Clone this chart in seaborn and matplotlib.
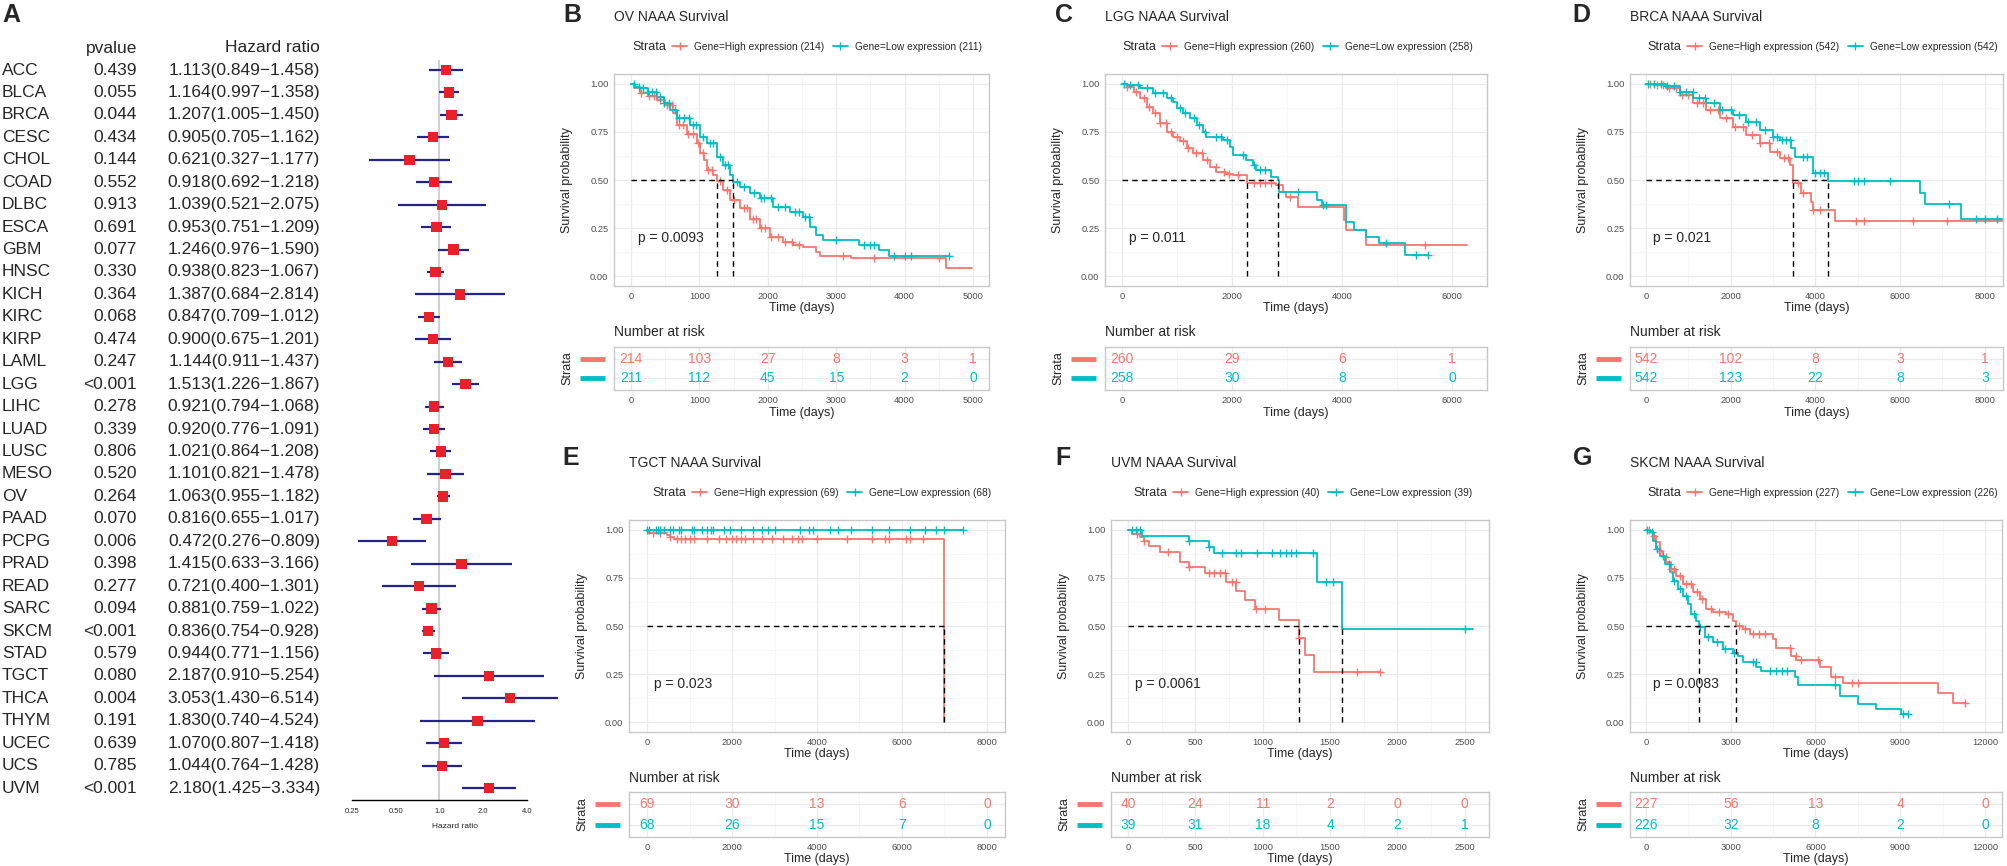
import numpy as np
import seaborn as sns
import matplotlib.pyplot as plt
from matplotlib.lines import Line2D
from matplotlib.transforms import blended_transform_factory

sns.set_style("white")
plt.rcParams['font.family'] = ['Liberation Sans', 'DejaVu Sans']

W, H = 2008, 866
RED = "#F8766D"
TEAL = "#00BFC4"

# ---- forest plot data (panel A) ----
cancer = ["ACC", "BLCA", "BRCA", "CESC", "CHOL", "COAD", "DLBC", "ESCA", "GBM", "HNSC",
          "KICH", "KIRC", "KIRP", "LAML", "LGG", "LIHC", "LUAD", "LUSC", "MESO", "OV",
          "PAAD", "PCPG", "PRAD", "READ", "SARC", "SKCM", "STAD", "TGCT", "THCA", "THYM",
          "UCEC", "UCS", "UVM"]
pvalue = ["0.439", "0.055", "0.044", "0.434", "0.144", "0.552", "0.913", "0.691", "0.077", "0.330",
          "0.364", "0.068", "0.474", "0.247", "<0.001", "0.278", "0.339", "0.806", "0.520", "0.264",
          "0.070", "0.006", "0.398", "0.277", "0.094", "<0.001", "0.579", "0.080", "0.004", "0.191",
          "0.639", "0.785", "<0.001"]
hr = [1.113, 1.164, 1.207, 0.905, 0.621, 0.918, 1.039, 0.953, 1.246, 0.938,
      1.387, 0.847, 0.900, 1.144, 1.513, 0.921, 0.920, 1.021, 1.101, 1.063,
      0.816, 0.472, 1.415, 0.721, 0.881, 0.836, 0.944, 2.187, 3.053, 1.830,
      1.070, 1.044, 2.180]
hr_low = [0.849, 0.997, 1.005, 0.705, 0.327, 0.692, 0.521, 0.751, 0.976, 0.823,
          0.684, 0.709, 0.675, 0.911, 1.226, 0.794, 0.776, 0.864, 0.821, 0.955,
          0.655, 0.276, 0.633, 0.400, 0.759, 0.754, 0.771, 0.910, 1.430, 0.740,
          0.807, 0.764, 1.425]
hr_high = [1.458, 1.358, 1.450, 1.162, 1.177, 1.218, 2.075, 1.209, 1.590, 1.067,
           2.814, 1.012, 1.201, 1.437, 1.867, 1.068, 1.091, 1.208, 1.478, 1.182,
           1.017, 0.809, 3.166, 1.301, 1.022, 0.928, 1.156, 5.254, 6.514, 4.524,
           1.418, 1.428, 3.334]

# ---- Kaplan-Meier curves ----
ov_high_t = [0, 40, 136, 250, 380, 500, 620, 670, 815, 960, 1010, 1060, 1107, 1204, 1250, 1350,
             1447, 1592, 1738, 1883, 2030, 2223, 2370, 2515, 2709, 2757, 3218, 4602, 4986]
ov_high_s = [1.0, 0.975, 0.95, 0.935, 0.915, 0.89, 0.85, 0.785, 0.74, 0.69, 0.64, 0.605, 0.55, 0.526,
             0.496, 0.45, 0.396, 0.353, 0.30, 0.25, 0.206, 0.18, 0.163, 0.154, 0.128, 0.106, 0.094,
             0.042, 0.042]
ov_low_t = [0, 60, 136, 250, 380, 480, 573, 670, 864, 1010, 1107, 1250, 1350, 1447, 1495, 1592, 1738,
            1883, 2078, 2320, 2515, 2612, 2709, 2806, 3340, 3631, 3777, 4650]
ov_low_s = [1.0, 0.985, 0.976, 0.955, 0.933, 0.9, 0.863, 0.82, 0.785, 0.725, 0.69, 0.62, 0.578, 0.526,
            0.491, 0.465, 0.43, 0.405, 0.362, 0.336, 0.31, 0.258, 0.215, 0.189, 0.163, 0.137, 0.106,
            0.106]
ov_high_cens = [150, 260, 330, 420, 520, 600, 700, 760, 830, 900, 980, 1050, 1130, 1180, 1300, 1400,
                1500, 1650, 1700, 1780, 1820, 1900, 1960, 2050, 2150, 2250, 2350, 2450, 3100, 3550, 4500]
ov_low_cens = [50, 120, 180, 250, 300, 360, 420, 480, 550, 650, 700, 780, 850, 900, 950, 1050, 1150,
               1200, 1300, 1380, 1420, 1550, 1650, 1800, 1900, 1950, 2050, 2150, 2250, 2400, 2450,
               2550, 2600, 3000, 3400, 3500, 3550, 3850, 4000, 4100, 4650]

lgg_high_t = [0, 90, 211, 331, 452, 572, 693, 813, 934, 1054, 1175, 1295, 1476, 1596, 1717, 1898,
              2018, 2271, 2801, 2922, 2982, 3193, 4036, 4066, 4428, 6275]
lgg_high_s = [1.0, 0.984, 0.958, 0.924, 0.88, 0.846, 0.794, 0.75, 0.725, 0.70, 0.664, 0.64, 0.605,
              0.57, 0.543, 0.533, 0.526, 0.486, 0.474, 0.44, 0.413, 0.362, 0.292, 0.24, 0.163, 0.163]
lgg_low_t = [0, 90, 331, 572, 813, 934, 994, 1114, 1235, 1355, 1476, 1536, 1837, 1958, 2018, 2259,
             2380, 2440, 2711, 2831, 2861, 3554, 3645, 4066, 4217, 4428, 4669, 5150, 5572]
lgg_low_s = [1.0, 0.993, 0.976, 0.95, 0.924, 0.907, 0.872, 0.846, 0.82, 0.785, 0.75, 0.725, 0.708,
             0.673, 0.63, 0.604, 0.578, 0.552, 0.517, 0.50, 0.44, 0.396, 0.37, 0.284, 0.24, 0.206,
             0.171, 0.11, 0.11]
lgg_high_cens = [100, 250, 400, 500, 600, 700, 800, 900, 1000, 1100, 1200, 1350, 1450, 1550, 1700,
                 1850, 1950, 2100, 2400, 2500, 2600, 2700, 3050, 5500]
lgg_low_cens = [30, 150, 300, 450, 600, 750, 900, 1050, 1150, 1300, 1400, 1500, 1700, 1800, 1900,
                2200, 2400, 2500, 2600, 3200, 3650, 3700, 4800, 5350, 5572]

brca_high_t = [0, 165, 480, 795, 1110, 1425, 1740, 2055, 2370, 2685, 2920, 3157, 3394, 3472, 3669,
               3905, 3945, 4457, 8500]
brca_high_s = [1.0, 0.993, 0.976, 0.94, 0.898, 0.863, 0.82, 0.777, 0.734, 0.69, 0.647, 0.612, 0.578,
               0.486, 0.43, 0.388, 0.344, 0.289, 0.289]
brca_low_t = [0, 480, 795, 1110, 1425, 1740, 2055, 2370, 2685, 3000, 3157, 3433, 3512, 3945, 4300,
              6465, 6583, 7449, 8500]
brca_low_s = [1.0, 0.988, 0.958, 0.924, 0.898, 0.863, 0.837, 0.80, 0.76, 0.725, 0.708, 0.664, 0.62,
              0.535, 0.495, 0.43, 0.375, 0.30, 0.30]
brca_high_cens = [100, 250, 400, 550, 700, 850, 1000, 1200, 1350, 1500, 1700, 1900, 2100, 2300, 2500,
                  2700, 2900, 3100, 3250, 3350, 3600, 3700, 3950, 4100, 4950, 5150, 6300, 7100]
brca_low_cens = [50, 200, 350, 500, 650, 800, 950, 1100, 1250, 1400, 1600, 1800, 2000, 2200, 2400,
                 2600, 2800, 3000, 3100, 3200, 3300, 3400, 3700, 3800, 4000, 4100, 4200, 4900, 5000,
                 5150, 5750, 7150, 7800, 8000, 8300]

tgct_high_t = [0, 20, 312, 469, 547, 625, 6992]
tgct_high_s = [1.0, 0.984, 0.98, 0.972, 0.964, 0.95, 0.0]
tgct_low_t = [0, 7435]
tgct_low_s = [1.0, 1.0]
tgct_high_cens = [150, 300, 550, 700, 800, 900, 1000, 1100, 1400, 1700, 1850, 2000, 2100, 2200, 2300,
                  2500, 2700, 2950, 3200, 3400, 3550, 3650, 4000, 4700, 5300, 5600, 5700, 6100, 6200,
                  6500]
tgct_low_cens = [0, 50, 200, 250, 300, 400, 550, 600, 750, 800, 1050, 1100, 1300, 1400, 1500, 1550,
                 1800, 1950, 2200, 2500, 2700, 2850, 3000, 3600, 3800, 3900, 4300, 4500, 4800, 5300,
                 5700, 6200, 6550, 6800, 7000, 7435]

uvm_high_t = [0, 30, 92, 116, 153, 240, 389, 450, 574, 730, 804, 871, 946, 1119, 1267, 1316, 1379, 1874]
uvm_high_s = [1.0, 0.978, 0.964, 0.943, 0.915, 0.886, 0.834, 0.808, 0.773, 0.727, 0.683, 0.635, 0.588,
              0.531, 0.436, 0.35, 0.263, 0.263]
uvm_low_t = [0, 104, 450, 599, 636, 1403, 1589, 2560]
uvm_low_s = [1.0, 0.969, 0.941, 0.912, 0.88, 0.73, 0.484, 0.484]
uvm_high_cens = [70, 120, 300, 450, 600, 640, 680, 720, 770, 800, 950, 1020, 1270, 1700, 1874]
uvm_low_cens = [30, 60, 90, 450, 600, 700, 800, 840, 960, 1070, 1130, 1170, 1210, 1250, 1370, 1470,
                1520, 2500]

skcm_high_t = [0, 130, 248, 366, 484, 602, 720, 897, 1074, 1310, 1665, 1901, 2137, 2373, 2845, 3081,
               3200, 3436, 3672, 4498, 4616, 5148, 5325, 6151, 6564, 6977, 10342, 10874, 11287]
skcm_high_s = [1.0, 0.995, 0.969, 0.934, 0.89, 0.856, 0.83, 0.796, 0.761, 0.718, 0.675, 0.64, 0.588,
               0.571, 0.562, 0.528, 0.50, 0.484, 0.458, 0.43, 0.388, 0.346, 0.323, 0.285, 0.235,
               0.204, 0.15, 0.10, 0.10]
skcm_low_t = [0, 130, 248, 366, 484, 661, 838, 956, 1133, 1310, 1488, 1606, 1783, 1865, 2078, 2373,
              2727, 3081, 3258, 3436, 3908, 4085, 5266, 5384, 6860, 7509, 8158, 9043, 9280]
skcm_low_s = [1.0, 0.986, 0.943, 0.90, 0.865, 0.822, 0.778, 0.735, 0.692, 0.657, 0.614, 0.562, 0.528,
              0.493, 0.445, 0.415, 0.38, 0.36, 0.346, 0.311, 0.285, 0.265, 0.234, 0.194, 0.138,
              0.095, 0.069, 0.043, 0.043]
skcm_high_cens = [100, 300, 500, 700, 900, 1000, 1200, 1400, 1600, 1800, 2000, 2300, 2600, 2900, 3300,
                  3500, 3800, 4000, 4200, 5100, 5300, 5500, 6100, 6700, 7300, 7500, 11287]
skcm_low_cens = [50, 200, 400, 600, 800, 1000, 1200, 1400, 1700, 1900, 2200, 2500, 2800, 3100, 3800,
                 3900, 4400, 4600, 4800, 5000, 6700, 9100, 9280]

# ---- numbers at risk ----
ov_risk_high = [214, 103, 27, 8, 3, 1]
ov_risk_low = [211, 112, 45, 15, 2, 0]
lgg_risk_high = [260, 29, 6, 1]
lgg_risk_low = [258, 30, 8, 0]
brca_risk_high = [542, 102, 8, 3, 1]
brca_risk_low = [542, 123, 22, 8, 3]
tgct_risk_high = [69, 30, 13, 6, 0]
tgct_risk_low = [68, 26, 15, 7, 0]
uvm_risk_high = [40, 24, 11, 2, 0, 0]
uvm_risk_low = [39, 31, 18, 4, 2, 1]
skcm_risk_high = [227, 56, 13, 4, 0]
skcm_risk_low = [226, 32, 8, 2, 0]

fig = plt.figure(figsize=(W / 100, H / 100), dpi=100)


def px_axes(left, top, right, bottom):
    return fig.add_axes([left / W, 1 - bottom / H, (right - left) / W, (bottom - top) / H])


def ftext(x, y, s, **kw):
    fig.text(x / W, 1 - y / H, s, **kw)


# ================= panel A: forest plot =================
ftext(2, 15, "A", fontsize=18, fontweight='bold', va='center')
axf = px_axes(340, 60, 570, 800)
axf.set_facecolor('none')
rows = np.arange(len(cancer))
axf.set_xscale('log', base=2)
axf.axvline(1, color='#d0d0d0', lw=1.5, zorder=0)
axf.hlines(rows, hr_low, hr_high, color='#23238e', lw=1.6, zorder=2)
sns.scatterplot(x=hr, y=rows, marker='s', s=55, color='#e8202a', edgecolor='none',
                ax=axf, zorder=3, legend=False)
axf.set_xlim(0.207, 7.9)
axf.set_ylim(32.53, -0.446)
for sp in ['left', 'top', 'right']:
    axf.spines[sp].set_visible(False)
axf.spines['bottom'].set_bounds(0.25, 4)
axf.spines['bottom'].set_color('black')
axf.spines['bottom'].set_linewidth(1)
axf.set_xticks([0.25, 0.5, 1, 2, 4])
axf.set_xticklabels(["0.25", "0.50", "1.0", "2.0", "4.0"])
axf.xaxis.set_minor_locator(plt.NullLocator())
axf.tick_params(axis='x', length=4, width=1, color='black', labelsize=5.5, pad=2)
axf.set_yticks([])
axf.set_xlabel("")
axf.set_ylabel("")
ftext(455, 827, "Hazard ratio", fontsize=6, ha='center', va='center')

tr = blended_transform_factory(fig.transFigure, axf.transData)
ftext(137, 48, "pvalue", fontsize=12.5, ha='right', va='center')
ftext(320, 48, "Hazard ratio", fontsize=12.5, ha='right', va='center')
for i in rows:
    axf.text(2 / W, i, cancer[i], transform=tr, ha='left', va='center', fontsize=12.5)
    axf.text(137 / W, i, pvalue[i], transform=tr, ha='right', va='center', fontsize=12.5)
    axf.text(320 / W, i, f"{hr[i]:.3f}({hr_low[i]:.3f}\u2212{hr_high[i]:.3f})",
             transform=tr, ha='right', va='center', fontsize=12.5)

# ================= KM panels =================
rows_geo = {
    'top': dict(letter_y=15, title_y=17, legend_y=47, plot=(74, 286), xlabel_y=308,
                nar_y=332, table=(347, 390), table_xlabel_y=413),
    'bottom': dict(letter_y=458, title_y=463, legend_y=493, plot=(520, 732), xlabel_y=754,
                   nar_y=778, table=(792, 837), table_xlabel_y=859),
}

panels = [
    dict(letter="B", letter_x=563, strata_x=632, row='top', left=614, right=989,
         title="OV NAAA Survival", xlim=(-249, 5234), xticks=list(range(0, 5001, 1000)),
         high=(ov_high_t, ov_high_s, ov_high_cens), low=(ov_low_t, ov_low_s, ov_low_cens),
         risk=(ov_risk_high, ov_risk_low), n=(214, 211), pval="p = 0.0093"),
    dict(letter="C", letter_x=1055, strata_x=1122, row='top', left=1105, right=1487,
         title="LGG NAAA Survival", xlim=(-309, 6636), xticks=[0, 2000, 4000, 6000],
         high=(lgg_high_t, lgg_high_s, lgg_high_cens), low=(lgg_low_t, lgg_low_s, lgg_low_cens),
         risk=(lgg_risk_high, lgg_risk_low), n=(260, 258), pval="p = 0.011"),
    dict(letter="D", letter_x=1572, strata_x=1647, row='top', left=1630, right=2003,
         title="BRCA NAAA Survival", xlim=(-378, 8430), xticks=[0, 2000, 4000, 6000, 8000],
         high=(brca_high_t, brca_high_s, brca_high_cens), low=(brca_low_t, brca_low_s, brca_low_cens),
         risk=(brca_risk_high, brca_risk_low), n=(542, 542), pval="p = 0.021"),
    dict(letter="E", letter_x=562, strata_x=652, row='bottom', left=629, right=1005,
         title="TGCT NAAA Survival", xlim=(-424, 8424), xticks=[0, 2000, 4000, 6000, 8000],
         high=(tgct_high_t, tgct_high_s, tgct_high_cens), low=(tgct_low_t, tgct_low_s, tgct_low_cens),
         risk=(tgct_risk_high, tgct_risk_low), n=(69, 68), pval="p = 0.023"),
    dict(letter="F", letter_x=1055, strata_x=1133, row='bottom', left=1111, right=1489,
         title="UVM NAAA Survival", xlim=(-126, 2680), xticks=[0, 500, 1000, 1500, 2000, 2500],
         high=(uvm_high_t, uvm_high_s, uvm_high_cens), low=(uvm_low_t, uvm_low_s, uvm_low_cens),
         risk=(uvm_risk_high, uvm_risk_low), n=(40, 39), pval="p = 0.0061"),
    dict(letter="G", letter_x=1573, strata_x=1647, row='bottom', left=1630, right=2002,
         title="SKCM NAAA Survival", xlim=(-566, 12602), xticks=[0, 3000, 6000, 9000, 12000],
         high=(skcm_high_t, skcm_high_s, skcm_high_cens), low=(skcm_low_t, skcm_low_s, skcm_low_cens),
         risk=(skcm_risk_high, skcm_risk_low), n=(227, 226), pval="p = 0.0083"),
]


def surv_at(t, s, ct):
    idx = np.searchsorted(np.asarray(t), np.asarray(ct), side='right') - 1
    return np.asarray(s)[idx]


def median_time(t, s):
    below = np.nonzero(np.asarray(s) <= 0.5)[0]
    return t[below[0]] if len(below) else None


def minor_between(ticks, lim):
    step = ticks[1] - ticks[0]
    cand = [ticks[0] - step / 2] + [v + step / 2 for v in ticks]
    return [v for v in cand if lim[0] <= v <= lim[1]]


def style_grid(ax, cfg):
    ax.set_xlim(cfg['xlim'])
    ax.set_xticks(cfg['xticks'])
    ax.set_xticks(minor_between(cfg['xticks'], cfg['xlim']), minor=True)
    ax.grid(which='major', color='#ebebeb', lw=0.9)
    ax.grid(which='minor', color='#f3f3f3', lw=0.5)
    ax.set_axisbelow(True)
    for sp in ax.spines.values():
        sp.set_color('#c8c8c8')
        sp.set_linewidth(1)
    ax.tick_params(which='minor', length=0)
    ax.tick_params(which='major', length=2.5, width=0.6, color='#555555', labelsize=6.7,
                   labelcolor='#4d4d4d', pad=1.5)


for cfg in panels:
    g = rows_geo[cfg['row']]
    left, right = cfg['left'], cfg['right']

    ftext(cfg['letter_x'], g['letter_y'], cfg['letter'], fontsize=18, fontweight='bold', va='center')
    ftext(left, g['title_y'], cfg['title'], fontsize=10, va='center')

    # legend
    ftext(cfg['strata_x'], g['legend_y'], "Strata", fontsize=9, va='center')
    handles = [Line2D([], [], color=RED, lw=1.3, marker='+', ms=6),
               Line2D([], [], color=TEAL, lw=1.3, marker='+', ms=6)]
    labels = [f"Gene=High expression ({cfg['n'][0]})", f"Gene=Low expression ({cfg['n'][1]})"]
    fig.legend(handles, labels, loc='center left',
               bbox_to_anchor=((cfg['strata_x'] + 40) / W, 1 - g['legend_y'] / H),
               ncol=2, frameon=False, fontsize=7.3, handlelength=1.5, handletextpad=0.7,
               columnspacing=0.8, borderpad=0, borderaxespad=0)

    # survival plot
    ax = px_axes(left, g['plot'][0], right, g['plot'][1])
    style_grid(ax, cfg)
    ax.set_ylim(-0.05, 1.05)
    ax.set_yticks([0, 0.25, 0.5, 0.75, 1.0])
    ax.set_yticklabels(["0.00", "0.25", "0.50", "0.75", "1.00"])
    ax.set_yticks([0.125, 0.375, 0.625, 0.875], minor=True)

    medians = []
    for (t, s, cens), col in ((cfg['high'], RED), (cfg['low'], TEAL)):
        sns.lineplot(x=t, y=s, ax=ax, color=col, lw=1.3, drawstyle='steps-post',
                     estimator=None, sort=False, legend=False)
        sns.scatterplot(x=cens, y=surv_at(t, s, cens), ax=ax, marker='+', s=30, color=col,
                        linewidth=1.0, legend=False, zorder=3)
        m = median_time(t, s)
        if m is not None:
            medians.append(m)
    if medians:
        ax.plot([0, max(medians)], [0.5, 0.5], color='black', lw=1, dashes=(4, 3), zorder=4)
        for m in medians:
            ax.plot([m, m], [0, 0.5], color='black', lw=1, dashes=(4, 3), zorder=4)
    ax.annotate(cfg['pval'], xy=(0, 0.2), xytext=(5, 0), textcoords='offset points',
                ha='left', va='center', fontsize=10)
    ax.set_xlabel("")
    ax.set_ylabel("")
    ftext((left + right) / 2, g['xlabel_y'], "Time (days)", fontsize=9, ha='center', va='center')
    ftext(left - 47, sum(g['plot']) / 2, "Survival probability", fontsize=9, rotation=90,
          ha='center', va='center')

    # risk table
    ftext(left, g['nar_y'], "Number at risk", fontsize=10, va='center')
    axt = px_axes(left, g['table'][0], right, g['table'][1])
    style_grid(axt, cfg)
    axt.set_ylim(0.4, 2.6)
    axt.set_yticks([1, 2])
    axt.set_yticklabels([])
    axt.tick_params(axis='y', length=0)
    for x, nh, nl in zip(cfg['xticks'], cfg['risk'][0], cfg['risk'][1]):
        axt.text(x, 2, str(nh), color=RED, ha='center', va='center', fontsize=10)
        axt.text(x, 1, str(nl), color=TEAL, ha='center', va='center', fontsize=10)
    trb = blended_transform_factory(fig.transFigure, axt.transData)
    for yy, col in ((2, RED), (1, TEAL)):
        axt.plot([(left - 34) / W, (left - 9) / W], [yy, yy], color=col, lw=3.5, transform=trb,
                 clip_on=False, solid_capstyle='butt')
    ftext((left + right) / 2, g['table_xlabel_y'], "Time (days)", fontsize=9, ha='center', va='center')
    ftext(left - 47, sum(g['table']) / 2, "Strata", fontsize=9, rotation=90, ha='center', va='center')

fig.savefig("out.png", dpi=100)
